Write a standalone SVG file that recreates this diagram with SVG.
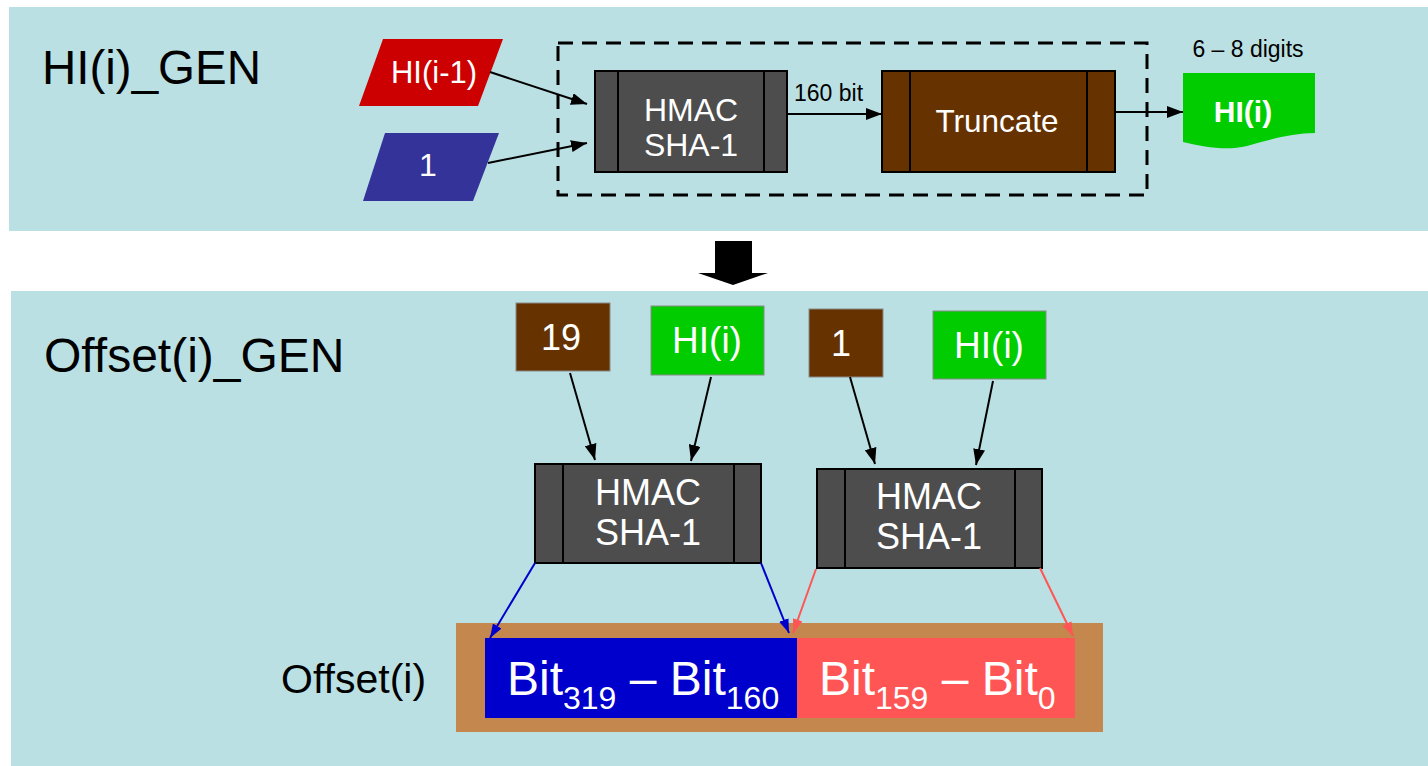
<svg xmlns="http://www.w3.org/2000/svg" width="1428" height="766" viewBox="0 0 1428 766">
<defs>
<style>
text{font-family:"Liberation Sans",Arial,Helvetica,sans-serif;}
.panel{fill:#BAE0E3;}
.w{fill:#FFFFFF;text-anchor:middle;}
.k{fill:#000000;}
.hmac{fill:#4D4D4D;stroke:#000;stroke-width:2;}
.div{stroke:#000;stroke-width:2;}
.trunc{fill:#663300;stroke:#000;stroke-width:2;}
.box{stroke:#8A8A8A;stroke-width:1;}
.blk{stroke:#000;stroke-width:2;fill:none;}
.bl{stroke:#0000CC;stroke-width:2;fill:none;}
.rd{stroke:#FF5555;stroke-width:2;fill:none;}
</style>
<marker id="ak" viewBox="0 0 16 12" refX="16" refY="6" markerWidth="16" markerHeight="12" markerUnits="userSpaceOnUse" orient="auto"><path d="M0,0 L16,6 L0,12 Z" fill="#000"/></marker>
<marker id="ab" viewBox="0 0 14 10" refX="14" refY="5" markerWidth="14" markerHeight="10" markerUnits="userSpaceOnUse" orient="auto"><path d="M0,0 L14,5 L0,10 Z" fill="#0000CC"/></marker>
<marker id="ar" viewBox="0 0 14 10" refX="14" refY="5" markerWidth="14" markerHeight="10" markerUnits="userSpaceOnUse" orient="auto"><path d="M0,0 L14,5 L0,10 Z" fill="#FF5555"/></marker>
</defs>
<rect width="1428" height="766" fill="#FFFFFF"/>
<rect class="panel" x="9" y="7" width="1419" height="224"/>
<rect class="panel" x="11" y="291" width="1417" height="475"/>

<text class="k" x="42" y="84" font-size="47.5">HI(i)_GEN</text>
<text class="k" x="44" y="372" font-size="48">Offset(i)_GEN</text>

<g id="dashed-group">
<rect x="558" y="43" width="589" height="152" fill="none" stroke="#000" stroke-width="3" stroke-dasharray="15 9"/>
</g>

<g id="hi-prev">
<polygon points="383,39 503,39 478,106 359,106" fill="#CC0000"/>
<text class="w" x="434" y="83" font-size="31">HI(i-1)</text>
</g>
<g id="one-top">
<polygon points="385,133 499,133 473,201 363,201" fill="#333399"/>
<text class="w" x="428" y="176" font-size="32">1</text>
</g>
<g id="hmac-top">
<rect class="hmac" x="595" y="71" width="192" height="101"/>
<line class="div" x1="618" y1="71" x2="618" y2="172"/>
<line class="div" x1="764" y1="71" x2="764" y2="172"/>
<text class="w" x="691" y="121" font-size="32">HMAC</text>
<text class="w" x="691" y="156" font-size="32">SHA-1</text>
</g>
<g id="truncate">
<rect class="trunc" x="882" y="71" width="233" height="101"/>
<line class="div" x1="910" y1="71" x2="910" y2="172"/>
<line class="div" x1="1087" y1="71" x2="1087" y2="172"/>
<text class="w" x="997" y="132" font-size="31.5">Truncate</text>
</g>
<g id="hi-out">
<text class="k" x="1248" y="57" font-size="23" text-anchor="middle">6 – 8 digits</text>
<path d="M1183,73 H1315 V133 C1292,133 1268,140 1247,146 C1226,151 1205,147 1183,142 Z" fill="#00CC00"/>
<text class="w" x="1243" y="122" font-size="30" font-weight="bold">HI(i)</text>
</g>

<g id="down-arrow">
<polygon points="715,241 752,241 752,273 768,273 733,285 698,273 715,273" fill="#000"/>
</g>

<g id="in-19">
<rect class="box" x="516" y="303" width="94" height="68" fill="#663300"/>
<text class="w" x="561" y="350" font-size="36">19</text>
</g>
<g id="in-hi-1">
<rect class="box" x="651" y="306" width="113" height="69" fill="#00CC00"/>
<text class="w" x="707" y="353" font-size="37">HI(i)</text>
</g>
<g id="in-1">
<rect class="box" x="809" y="309" width="74" height="68" fill="#663300"/>
<text class="w" x="841" y="356" font-size="36">1</text>
</g>
<g id="in-hi-2">
<rect class="box" x="933" y="311" width="113" height="68" fill="#00CC00"/>
<text class="w" x="989" y="358" font-size="37">HI(i)</text>
</g>

<g id="hmac-left">
<rect class="hmac" x="535" y="464" width="226" height="99"/>
<line class="div" x1="563" y1="464" x2="563" y2="563"/>
<line class="div" x1="734" y1="464" x2="734" y2="563"/>
<text class="w" x="648" y="505" font-size="36">HMAC</text>
<text class="w" x="648" y="545" font-size="36">SHA-1</text>
</g>
<g id="hmac-right">
<rect class="hmac" x="817" y="469" width="225" height="99"/>
<line class="div" x1="845" y1="469" x2="845" y2="568"/>
<line class="div" x1="1015" y1="469" x2="1015" y2="568"/>
<text class="w" x="929" y="509" font-size="36">HMAC</text>
<text class="w" x="929" y="549" font-size="36">SHA-1</text>
</g>

<g id="offset">
<text class="k" x="281" y="693" font-size="41">Offset(i)</text>
<rect x="456" y="623" width="647" height="109" fill="#C4874E"/>
<rect x="485" y="638" width="312" height="80" fill="#0000CC"/>
<rect x="797" y="638" width="278" height="80" fill="#FF5555"/>
<text fill="#FFF" x="507" y="695" font-size="48">Bit<tspan font-size="32" dy="14">319</tspan><tspan dy="-14"> – Bit</tspan><tspan font-size="32" dy="14">160</tspan></text>
<text fill="#FFF" x="819" y="695" font-size="48">Bit<tspan font-size="32" dy="14">159</tspan><tspan dy="-14"> – Bit</tspan><tspan font-size="32" dy="14">0</tspan></text>
</g>

<g id="connectors">
<line class="blk" x1="490" y1="72" x2="587" y2="104" marker-end="url(#ak)"/>
<line class="blk" x1="488" y1="163" x2="587" y2="143" marker-end="url(#ak)"/>
<line class="blk" x1="787" y1="114" x2="882" y2="114" marker-end="url(#ak)"/>
<text class="k" x="794" y="101" font-size="23">160 bit</text>
<line class="blk" x1="1115" y1="112" x2="1183" y2="112" marker-end="url(#ak)"/>
<line class="blk" x1="570" y1="373" x2="595" y2="460" marker-end="url(#ak)"/>
<line class="blk" x1="711" y1="377" x2="691" y2="461" marker-end="url(#ak)"/>
<line class="blk" x1="850" y1="377" x2="875" y2="464" marker-end="url(#ak)"/>
<line class="blk" x1="993" y1="381" x2="976" y2="465" marker-end="url(#ak)"/>
<line class="bl" x1="535" y1="563" x2="490" y2="638" marker-end="url(#ab)"/>
<line class="bl" x1="761" y1="563" x2="789" y2="633" marker-end="url(#ab)"/>
<line class="rd" x1="816" y1="569" x2="793" y2="633" marker-end="url(#ar)"/>
<line class="rd" x1="1040" y1="568" x2="1073" y2="636" marker-end="url(#ar)"/>
</g>
</svg>
